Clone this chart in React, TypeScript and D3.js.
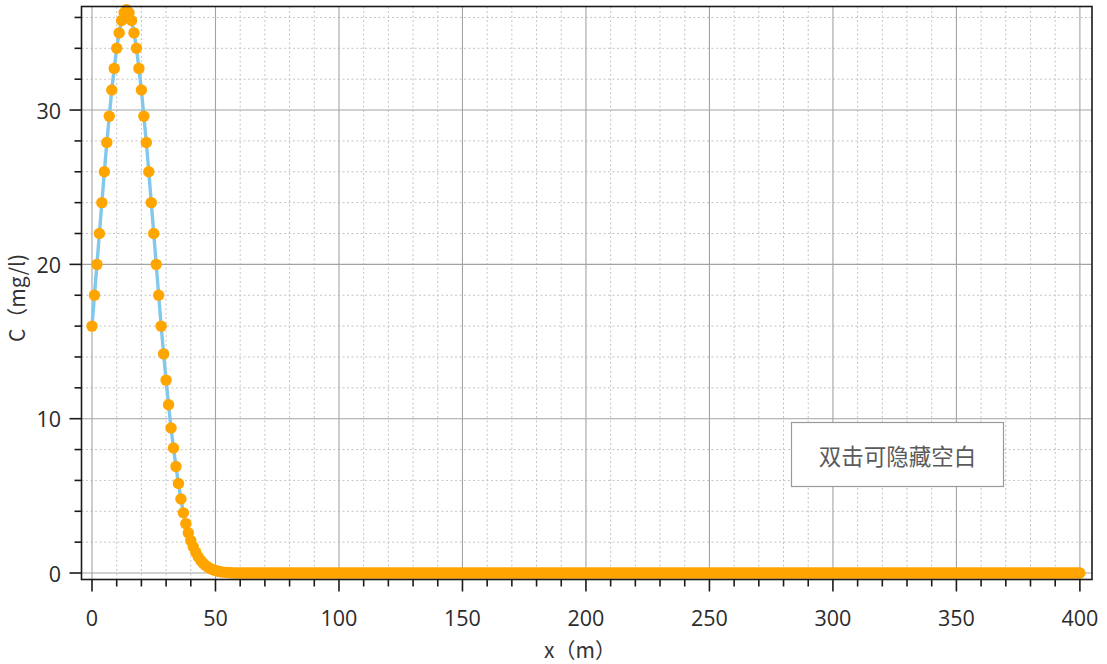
import React from "react";
import * as d3 from "d3";

// Concentration C (mg/l) sampled every 1 m along x, from x = 0 to x = 400.
const xStep = 1;
const concentrationHead: number[] = [
  16.0, 18.0, 20.0, 22.0, 24.0, 26.0, 27.9, 29.6, 31.3, 32.7,
  34.0, 35.0, 35.8, 36.3, 36.5, 36.3, 35.8, 35.0, 34.0, 32.7,
  31.3, 29.6, 27.9, 26.0, 24.0, 22.0, 20.0, 18.0, 16.0, 14.2,
  12.5, 10.9, 9.4, 8.1, 6.9, 5.8, 4.8, 3.9, 3.2, 2.6,
  2.1, 1.7, 1.35, 1.05, 0.82, 0.64, 0.49, 0.37, 0.28, 0.21,
  0.16, 0.11, 0.08, 0.06, 0.04, 0.03, 0.02, 0.01, 0.01, 0,
  0,
];
// Flat tail, x = 61 .. 400
const concentrationTail: number[] = [
  0, 0, 0, 0, 0, 0, 0, 0, 0, 0, 0, 0, 0, 0, 0, 0, 0, 0, 0, 0,
  0, 0, 0, 0, 0, 0, 0, 0, 0, 0, 0, 0, 0, 0, 0, 0, 0, 0, 0, 0,
  0, 0, 0, 0, 0, 0, 0, 0, 0, 0, 0, 0, 0, 0, 0, 0, 0, 0, 0, 0,
  0, 0, 0, 0, 0, 0, 0, 0, 0, 0, 0, 0, 0, 0, 0, 0, 0, 0, 0, 0,
  0, 0, 0, 0, 0, 0, 0, 0, 0, 0, 0, 0, 0, 0, 0, 0, 0, 0, 0, 0,
  0, 0, 0, 0, 0, 0, 0, 0, 0, 0, 0, 0, 0, 0, 0, 0, 0, 0, 0, 0,
  0, 0, 0, 0, 0, 0, 0, 0, 0, 0, 0, 0, 0, 0, 0, 0, 0, 0, 0, 0,
  0, 0, 0, 0, 0, 0, 0, 0, 0, 0, 0, 0, 0, 0, 0, 0, 0, 0, 0, 0,
  0, 0, 0, 0, 0, 0, 0, 0, 0, 0, 0, 0, 0, 0, 0, 0, 0, 0, 0, 0,
  0, 0, 0, 0, 0, 0, 0, 0, 0, 0, 0, 0, 0, 0, 0, 0, 0, 0, 0, 0,
  0, 0, 0, 0, 0, 0, 0, 0, 0, 0, 0, 0, 0, 0, 0, 0, 0, 0, 0, 0,
  0, 0, 0, 0, 0, 0, 0, 0, 0, 0, 0, 0, 0, 0, 0, 0, 0, 0, 0, 0,
  0, 0, 0, 0, 0, 0, 0, 0, 0, 0, 0, 0, 0, 0, 0, 0, 0, 0, 0, 0,
  0, 0, 0, 0, 0, 0, 0, 0, 0, 0, 0, 0, 0, 0, 0, 0, 0, 0, 0, 0,
  0, 0, 0, 0, 0, 0, 0, 0, 0, 0, 0, 0, 0, 0, 0, 0, 0, 0, 0, 0,
  0, 0, 0, 0, 0, 0, 0, 0, 0, 0, 0, 0, 0, 0, 0, 0, 0, 0, 0, 0,
  0, 0, 0, 0, 0, 0, 0, 0, 0, 0, 0, 0, 0, 0, 0, 0, 0, 0, 0, 0,
];
const concentration: number[] = [...concentrationHead, ...concentrationTail];

// Axis ranges and ticks
const xDomain: [number, number] = [-4.25, 404.9];
const yDomain: [number, number] = [-0.42, 36.71];
const xMajorTicks = [0, 50, 100, 150, 200, 250, 300, 350, 400];
const xMinorTicks = d3.range(0, 401, 10);
const yMajorTicks = [0, 10, 20, 30];
const yMinorTicks = d3.range(0, 37, 2);

const xTitle = "x（m）";
const yTitle = "C（mg/l)";
const noteText = "双击可隐藏空白";

const W = 1107;
const H = 664;
const plot = { left: 81.5, top: 6.5, right: 1092, bottom: 579.5 };

const FONT = "'Segoe UI', 'Open Sans', 'Noto Sans', sans-serif";
const CJK = "'Noto Sans CJK SC', 'Noto Sans', sans-serif";

export default function App() {
  const x = d3.scaleLinear().domain(xDomain).range([plot.left, plot.right]);
  const y = d3.scaleLinear().domain(yDomain).range([plot.bottom, plot.top]);

  const points = concentration.map((c, i) => ({ x: i * xStep, c }));
  const linePath =
    d3
      .line<{ x: number; c: number }>()
      .x((d) => x(d.x))
      .y((d) => y(d.c))(points) || "";

  const majorLen = 12;
  const minorLen = 7;
  const axisColor = "#1a1a1a";

  return (
    <svg
      width={W}
      height={H}
      style={{ position: "absolute", left: 0, top: 0, background: "#fff" }}
    >
      <rect x={0} y={0} width={W} height={H} fill="#fff" />

      {/* minor grid */}
      <g stroke="#c4c4c4" strokeWidth={1} strokeDasharray="2,2.5">
        {xMinorTicks
          .filter((t) => !xMajorTicks.includes(t))
          .map((t) => (
            <line key={"xm" + t} x1={x(t)} x2={x(t)} y1={plot.top} y2={plot.bottom} />
          ))}
        {yMinorTicks
          .filter((t) => !yMajorTicks.includes(t))
          .map((t) => (
            <line key={"ym" + t} x1={plot.left} x2={plot.right} y1={y(t)} y2={y(t)} />
          ))}
      </g>

      {/* major grid */}
      <g stroke="#a3a3a3" strokeWidth={1.1}>
        {xMajorTicks.map((t) => (
          <line key={"xM" + t} x1={x(t)} x2={x(t)} y1={plot.top} y2={plot.bottom} />
        ))}
        {yMajorTicks.map((t) => (
          <line key={"yM" + t} x1={plot.left} x2={plot.right} y1={y(t)} y2={y(t)} />
        ))}
      </g>

      {/* series */}
      <path d={linePath} fill="none" stroke="#82c8ec" strokeWidth={3.4} strokeLinejoin="round" />
      <g fill="#FFA500">
        {points.map((p) => (
          <circle key={p.x} cx={x(p.x)} cy={y(p.c)} r={5.7} />
        ))}
      </g>

      {/* frame */}
      <rect
        x={plot.left}
        y={plot.top}
        width={plot.right - plot.left}
        height={plot.bottom - plot.top}
        fill="none"
        stroke={axisColor}
        strokeWidth={1.6}
      />

      {/* axis ticks */}
      <g stroke={axisColor} strokeWidth={1.6}>
        {xMinorTicks.map((t) => (
          <line
            key={"xt" + t}
            x1={x(t)}
            x2={x(t)}
            y1={plot.bottom}
            y2={plot.bottom + (xMajorTicks.includes(t) ? majorLen : minorLen)}
          />
        ))}
        {yMinorTicks.map((t) => (
          <line
            key={"yt" + t}
            x1={plot.left}
            x2={plot.left - (yMajorTicks.includes(t) ? majorLen : minorLen)}
            y1={y(t)}
            y2={y(t)}
          />
        ))}
      </g>

      <g fontFamily={FONT} fontSize={21.5} fill="#2b2b2b">
        {xMajorTicks.map((t) => (
          <text key={"xl" + t} x={x(t)} y={626} textAnchor="middle">
            {t}
          </text>
        ))}
        {yMajorTicks.map((t) => (
          <text key={"yl" + t} x={61} y={y(t)} textAnchor="end" dominantBaseline="central">
            {t}
          </text>
        ))}
      </g>

      {/* axis titles */}
      <text
        x={580}
        y={658}
        textAnchor="middle"
        fontFamily={CJK}
        fontSize={21}
        fill="#333"
      >
        {xTitle}
      </text>
      <text
        transform={`translate(25, 298) rotate(-90)`}
        textAnchor="middle"
        fontFamily={CJK}
        fontSize={21}
        fill="#333"
      >
        {yTitle}
      </text>

      {/* note box */}
      <rect x={791.5} y={422.5} width={212} height={64} fill="#fff" stroke="#9a9a9a" strokeWidth={1.2} />
      <text
        x={897.5}
        y={454.5}
        textAnchor="middle"
        dominantBaseline="central"
        fontFamily={CJK}
        fontSize={22.5}
        fill="#5a5a5a"
      >
        {noteText}
      </text>
    </svg>
  );
}
